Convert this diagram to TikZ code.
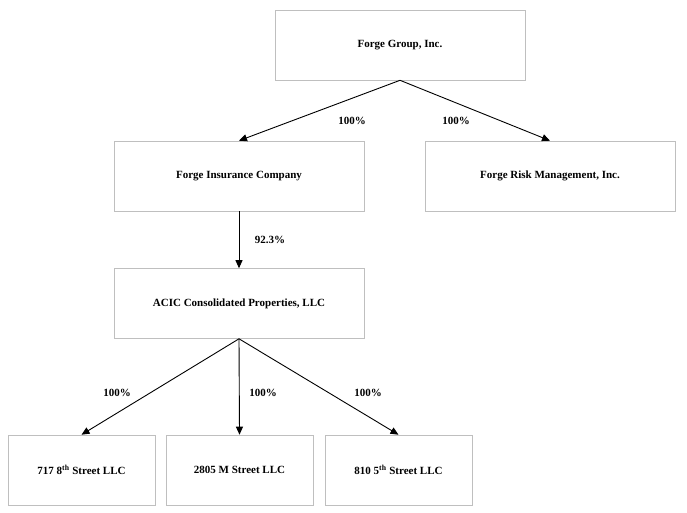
\documentclass[tikz,border=0pt]{standalone}
\usepackage{fontspec}
\setmainfont{Liberation Serif}
\usetikzlibrary{arrows.meta}
\begin{document}
\begin{tikzpicture}[x=1pt,y=-1pt,
  box/.style={draw=black!25,line width=0.6pt,minimum height=70pt,font=\fontsize{11}{13}\selectfont\bfseries},
  wide/.style={box,minimum width=250pt},
  small/.style={box,minimum width=147pt},
  conn/.style={-{Triangle[length=8pt,width=7pt]},line width=0.9pt},
  lbl/.style={font=\fontsize{11}{13}\selectfont\bfseries}]
\useasboundingbox (0,0) rectangle (687,513);
\node[wide] (fg) at (400,45) {Forge Group, Inc.};
\node[wide] (fi) at (239,176) {Forge Insurance Company};
\node[wide] (fr) at (550,176) {Forge Risk Management, Inc.};
\node[wide] (ac) at (239,303.5) {ACIC Consolidated Properties, LLC};
\node[small] (a) at (81.5,470) {717 8\textsuperscript{th} Street LLC};
\node[small] (b) at (239.5,470) {2805 M Street LLC};
\node[small] (c) at (398.5,470) {810 5\textsuperscript{th} Street LLC};
\draw[conn] (fg.south) -- (fi.north);
\draw[conn] (fg.south) -- (fr.north);
\draw[conn] (fi.south) -- (ac.north);
\draw[conn] (ac.south) -- (a.north);
\draw[conn] (ac.south) -- (b.north);
\draw[conn] (ac.south) -- (c.north);
\node[lbl] (l1) at (352,121) {100\%};
\node[lbl] (l2) at (456,121) {100\%};
\node[lbl] (l3) at (270,240) {92.3\%};
\node[lbl] (l4) at (117,393) {100\%};
\node[lbl] (l5) at (263,393) {100\%};
\node[lbl] (l6) at (368,393) {100\%};
\end{tikzpicture}
\end{document}
